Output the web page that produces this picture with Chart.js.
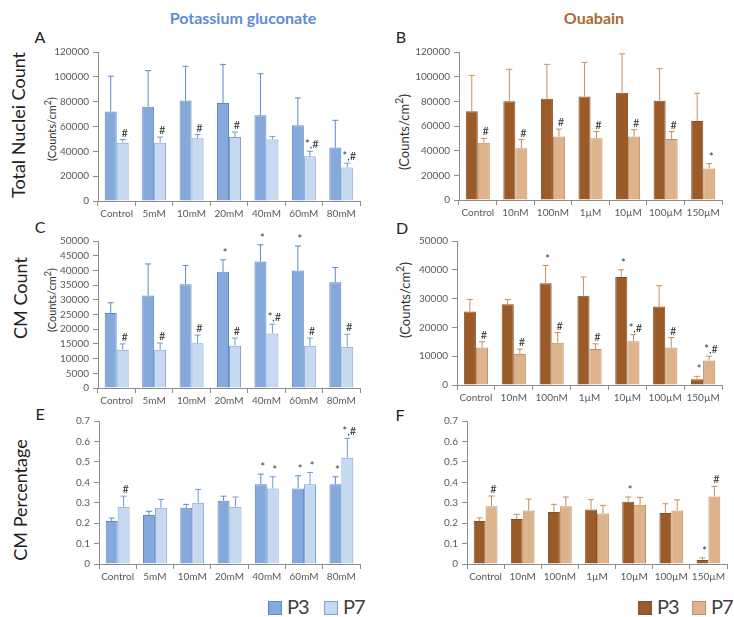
<!DOCTYPE html>
<html lang="en">
<head>
    <meta charset="UTF-8">
    <script src="https://cdn.jsdelivr.net/npm/chart.js"></script>
    <style>
        body {
            margin: 0;
            background: #ffffff;
            font-family: 'Lato', sans-serif;
            color: #222;
        }
        .page {
            position: relative;
            width: 734px;
            height: 617px;
            overflow: hidden;
        }
        .panel {
            position: absolute;
        }
        .txt {
            position: absolute;
            white-space: nowrap;
            transform: translate(-50%, -50%);
        }
        .rot {
            transform: translate(-50%, -50%) rotate(-90deg);
        }
        .title {
            font-weight: bold;
            font-size: 16px;
        }
        .letter {
            font-size: 16px;
        }
        .rowlabel {
            font-size: 18px;
        }
        .unit {
            font-size: 11px;
            color: #333;
        }
        .lgbox {
            position: absolute;
            width: 12px;
            height: 12px;
            border: 1px solid;
            top: 601px;
        }
        .lgtext {
            position: absolute;
            top: 594px;
            font-size: 20px;
            letter-spacing: -1px;
            line-height: 24px;
            color: #404040;
        }
    </style>
    <script>
        // categories
        const kCats = ['Control', '5mM', '10mM', '20mM', '40mM', '60mM', '80mM'];
        const oCats = ['Control', '10nM', '100nM', '1\u00b5M', '10\u00b5M', '100\u00b5M', '150\u00b5M'];

        // A - total nuclei, potassium gluconate
        const aP3 = [72000, 76000, 81000, 79000, 69000, 61000, 43000];
        const aP3Err = [28500, 29000, 27500, 31000, 33500, 22000, 22000];
        const aP7 = [47000, 47000, 50500, 51500, 49500, 36000, 27000];
        const aP7Err = [2500, 4500, 3000, 4000, 2500, 4000, 3500];
        const aP3Marks = ['', '', '', '', '', '', ''];
        const aP7Marks = ['#', '#', '#', '#', '', '*,#', '*,#'];

        // B - total nuclei, ouabain
        const bP3 = [72000, 80000, 82000, 84000, 87000, 80500, 64000];
        const bP3Err = [29000, 26000, 28000, 27500, 31500, 26000, 22500];
        const bP7 = [46500, 42000, 51500, 50000, 51500, 49500, 25500];
        const bP7Err = [3500, 7000, 6000, 5500, 5500, 6000, 4000];
        const bP3Marks = ['', '', '', '', '', '', ''];
        const bP7Marks = ['#', '#', '#', '#', '#', '#', '*'];

        // C - CM count, potassium gluconate
        const cP3 = [25500, 31500, 35300, 39500, 43000, 40000, 36000];
        const cP3Err = [3500, 10700, 6400, 4100, 5700, 8300, 5000];
        const cP7 = [13000, 13000, 15200, 14400, 18500, 14400, 14000];
        const cP7Err = [2000, 2300, 2800, 2600, 3200, 2600, 4300];
        const cP3Marks = ['', '', '', '*', '*', '*', ''];
        const cP7Marks = ['#', '#', '#', '#', '*,#', '#', '#'];

        // D - CM count, ouabain
        const dP3 = [25500, 28000, 35300, 31000, 37500, 27300, 2000];
        const dP3Err = [4200, 1700, 6200, 6500, 2500, 7200, 1000];
        const dP7 = [13000, 10800, 14700, 12500, 15200, 13000, 8500];
        const dP7Err = [2000, 1700, 3500, 1800, 2300, 3500, 1500];
        const dP3Marks = ['', '', '*', '', '*', '', '*'];
        const dP7Marks = ['#', '#', '#', '#', '*,#', '#', '*,#'];

        // E - CM percentage, potassium gluconate
        const eP3 = [0.21, 0.24, 0.275, 0.31, 0.39, 0.37, 0.39];
        const eP3Err = [0.015, 0.018, 0.017, 0.022, 0.05, 0.062, 0.037];
        const eP7 = [0.28, 0.275, 0.30, 0.28, 0.37, 0.39, 0.52];
        const eP7Err = [0.052, 0.041, 0.065, 0.048, 0.057, 0.058, 0.095];
        const eP3Marks = ['', '', '', '', '*', '*', '*'];
        const eP7Marks = ['#', '', '', '', '*', '*', '*,#'];

        // F - CM percentage, ouabain
        const fP3 = [0.21, 0.22, 0.255, 0.267, 0.305, 0.25, 0.02];
        const fP3Err = [0.016, 0.023, 0.037, 0.048, 0.023, 0.045, 0.01];
        const fP7 = [0.283, 0.262, 0.283, 0.247, 0.29, 0.262, 0.33];
        const fP7Err = [0.05, 0.056, 0.045, 0.04, 0.036, 0.052, 0.05];
        const fP3Marks = ['', '', '', '', '*', '', '*'];
        const fP7Marks = ['#', '', '', '', '', '', '#'];

        const bluePal = { p3: '#84a9da', p3Border: '#5a89c8', p7: '#c6d9f1', p7Border: '#7aa3d8', err3: '#5a89c8', err7: '#6f9bd4' };
        const brownPal = { p3: '#9b5b29', p3Border: '#8a4e20', p7: '#dcb38b', p7Border: '#c48d5c', err3: '#c8925c', err7: '#c48d5c' };

        const tickFont = { family: 'Lato', size: 10 };
        const tickColor = '#595959';
        const axisColor = '#8c8c8c';

        // draws upper error bars and the significance marks
        const errorBarPlugin = {
            id: 'errorBars',
            afterDatasetsDraw(chart) {
                const ctx = chart.ctx;
                const yScale = chart.scales.y;
                chart.data.datasets.forEach((ds, i) => {
                    const meta = chart.getDatasetMeta(i);
                    meta.data.forEach((bar, j) => {
                        const top = yScale.getPixelForValue(ds.data[j] + ds.errors[j]);
                        ctx.save();
                        ctx.strokeStyle = ds.errColor;
                        ctx.lineWidth = 1;
                        ctx.beginPath();
                        ctx.moveTo(bar.x, bar.y);
                        ctx.lineTo(bar.x, top);
                        ctx.moveTo(bar.x - 3, top);
                        ctx.lineTo(bar.x + 3, top);
                        ctx.stroke();
                        if (ds.marks[j]) {
                            ctx.fillStyle = '#333';
                            ctx.font = '11px Lato';
                            ctx.textAlign = 'center';
                            ctx.textBaseline = 'bottom';
                            ctx.fillText(ds.marks[j], bar.x + 2, top - 1);
                        }
                        ctx.restore();
                    });
                });
            }
        };

        function buildChart(id, cats, p3, p3Err, p7, p7Err, p3Marks, p7Marks, yMax, yStep, pal) {
            return new Chart(document.getElementById(id), {
                type: 'bar',
                data: {
                    labels: cats,
                    datasets: [{
                        label: 'P3',
                        data: p3,
                        errors: p3Err,
                        marks: p3Marks,
                        errColor: pal.err3,
                        backgroundColor: pal.p3,
                        borderColor: pal.p3Border,
                        borderWidth: 1
                    }, {
                        label: 'P7',
                        data: p7,
                        errors: p7Err,
                        marks: p7Marks,
                        errColor: pal.err7,
                        backgroundColor: pal.p7,
                        borderColor: pal.p7Border,
                        borderWidth: 1
                    }]
                },
                options: {
                    responsive: true,
                    maintainAspectRatio: false,
                    animation: false,
                    layout: { padding: { top: 6, right: 2, left: 0, bottom: 0 } },
                    datasets: { bar: { categoryPercentage: 0.64, barPercentage: 1 } },
                    plugins: { legend: { display: false }, tooltip: { enabled: false } },
                    scales: {
                        x: {
                            grid: { offset: true, drawOnChartArea: false, tickLength: 5, color: axisColor },
                            border: { color: axisColor },
                            ticks: { font: tickFont, color: tickColor, padding: 2, maxRotation: 0, autoSkip: false },
                            afterFit: s => { s.height = 20; }
                        },
                        y: {
                            min: 0,
                            max: yMax,
                            grid: { drawOnChartArea: false, tickLength: 5, color: axisColor },
                            border: { color: axisColor },
                            ticks: {
                                stepSize: yStep,
                                autoSkip: false,
                                font: tickFont,
                                color: tickColor,
                                padding: 4,
                                callback: v => String(+v.toFixed(2))
                            },
                            afterFit: s => { s.width = 46; }
                        }
                    }
                },
                plugins: [errorBarPlugin]
            });
        }

        window.onload = () => {
            buildChart('chartA', kCats, aP3, aP3Err, aP7, aP7Err, aP3Marks, aP7Marks, 120000, 20000, bluePal);
            buildChart('chartB', oCats, bP3, bP3Err, bP7, bP7Err, bP3Marks, bP7Marks, 120000, 20000, brownPal);
            buildChart('chartC', kCats, cP3, cP3Err, cP7, cP7Err, cP3Marks, cP7Marks, 50000, 5000, bluePal);
            buildChart('chartD', oCats, dP3, dP3Err, dP7, dP7Err, dP3Marks, dP7Marks, 50000, 10000, brownPal);
            buildChart('chartE', kCats, eP3, eP3Err, eP7, eP7Err, eP3Marks, eP7Marks, 0.7, 0.1, bluePal);
            buildChart('chartF', oCats, fP3, fP3Err, fP7, fP7Err, fP3Marks, fP7Marks, 0.7, 0.1, brownPal);
        };
    </script>
</head>
<body>
<div class="page">
    <div class="txt title" style="left:243px; top:17px; color:#5b8dd6;">Potassium gluconate</div>
    <div class="txt title" style="left:594px; top:17px; color:#a86a30;">Ouabain</div>

    <div class="txt letter" style="left:40px; top:36px;">A</div>
    <div class="txt letter" style="left:401px; top:36px;">B</div>
    <div class="txt letter" style="left:40px; top:226px;">C</div>
    <div class="txt letter" style="left:402px; top:227px;">D</div>
    <div class="txt letter" style="left:40px; top:413px;">E</div>
    <div class="txt letter" style="left:400px; top:414px;">F</div>

    <div class="txt rot rowlabel" style="left:18px; top:125px;">Total Nuclei Count</div>
    <div class="txt rot unit" style="left:50px; top:129px;">(Counts/cm<sup>2</sup>)</div>
    <div class="txt rot unit" style="left:402px; top:132px; font-size:13px;">(Counts/cm<sup>2</sup>)</div>
    <div class="txt rot rowlabel" style="left:20px; top:298px;">CM Count</div>
    <div class="txt rot unit" style="left:50px; top:300px;">(Counts/cm<sup>2</sup>)</div>
    <div class="txt rot unit" style="left:403px; top:300px; font-size:13px;">(Counts/cm<sup>2</sup>)</div>
    <div class="txt rot rowlabel" style="left:20px; top:500px;">CM Percentage</div>

    <div class="panel" style="left:52px; top:42px; width:310px; height:179px;"><canvas id="chartA"></canvas></div>
    <div class="panel" style="left:413px; top:42px; width:311px; height:178px;"><canvas id="chartB"></canvas></div>
    <div class="panel" style="left:52px; top:231px; width:310px; height:177px;"><canvas id="chartC"></canvas></div>
    <div class="panel" style="left:411px; top:231px; width:313px; height:174px;"><canvas id="chartD"></canvas></div>
    <div class="panel" style="left:53px; top:411px; width:309px; height:173px;"><canvas id="chartE"></canvas></div>
    <div class="panel" style="left:421px; top:411px; width:308px; height:173px;"><canvas id="chartF"></canvas></div>

    <div class="lgbox" style="left:268px; background:#84a9da; border-color:#5a89c8;"></div>
    <div class="lgtext" style="left:287px;">P3</div>
    <div class="lgbox" style="left:324px; background:#c6d9f1; border-color:#7aa3d8;"></div>
    <div class="lgtext" style="left:343px;">P7</div>

    <div class="lgbox" style="left:638px; background:#9b5b29; border-color:#8a4e20;"></div>
    <div class="lgtext" style="left:657px;">P3</div>
    <div class="lgbox" style="left:692px; background:#dcb38b; border-color:#c48d5c;"></div>
    <div class="lgtext" style="left:711px;">P7</div>
</div>
</body>
</html>
